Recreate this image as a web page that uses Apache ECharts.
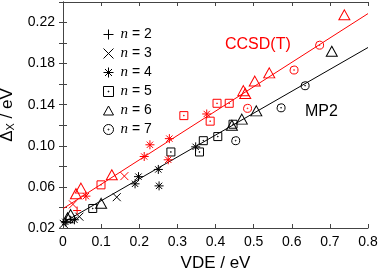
<!DOCTYPE html>
<html><head><meta charset="utf-8">
<script src="https://cdn.jsdelivr.net/npm/echarts@6/dist/echarts.min.js"></script>
<style>html,body{margin:0;padding:0;background:#fff}#c{width:380px;height:270px}</style>
</head><body><div id="c"></div>
<script>
// ---- data ----
const nLabels = ['n = 2','n = 3','n = 4','n = 5','n = 6','n = 7'];
const mp2_n2 = [[0.008,0.026],[0.020,0.028]];
const mp2_n3 = [[0.002,0.024],[0.043,0.031],[0.141,0.050]];
const mp2_n4 = [[0.006,0.026],[0.030,0.028],[0.189,0.063],[0.198,0.070],[0.250,0.077],[0.252,0.061],[0.348,0.099]];
const mp2_n5 = [[0.078,0.039],[0.283,0.094],[0.358,0.094],[0.368,0.105],[0.406,0.109],[0.446,0.121]];
const mp2_n6 = [[0.012,0.030],[0.020,0.033],[0.100,0.044],[0.443,0.120],[0.469,0.126],[0.507,0.134],[0.705,0.192]];
const mp2_n7 = [[0.453,0.105],[0.572,0.137],[0.635,0.1585]];
const cc_n2 = [[0.037,0.037]];
const cc_n3 = [[0.026,0.043],[0.161,0.0705]];
const cc_n4 = [[0.060,0.051],[0.213,0.0896],[0.228,0.101],[0.279,0.107],[0.276,0.0864],[0.377,0.131]];
const cc_n5 = [[0.0997,0.062],[0.317,0.1294],[0.386,0.124],[0.404,0.1414],[0.436,0.1414]];
const cc_n6 = [[0.034,0.0534],[0.047,0.0588],[0.128,0.0718],[0.473,0.1537],[0.478,0.151],[0.503,0.163],[0.541,0.171],[0.738,0.2275]];
const cc_n7 = [[0.484,0.1365],[0.606,0.1738],[0.673,0.198]];
const ccFit = [[0,0.0388],[0.8,0.2287]];
const mp2Fit = [[0,0.0252],[0.8,0.1957]];
const xTicks = [0,0.1,0.2,0.3,0.4,0.5,0.6,0.7,0.8];
const yTickLabels = ['0.02','0.06','0.10','0.14','0.18','0.22'];

// ---- styling ----
const FONT = "'Liberation Sans', Arial, sans-serif";
const symbols = [
  'path://M5,0 L5,10 M0,5 L10,5',
  'path://M0,0 L10,10 M10,0 L0,10',
  'path://M5,0 L5,10 M0,5 L10,5 M1.5,1.5 L8.5,8.5 M8.5,1.5 L1.5,8.5',
  'path://M0,0 L10,0 L10,10 L0,10 Z M4.6,4.6 L5.4,4.6 L5.4,5.4 L4.6,5.4 Z',
  'path://M5,0 L10,9 L0,9 Z',
  'path://M5,0 A5,5 0 1 1 4.99,0 Z M5,4.5 A0.5,0.5 0 1 1 4.99,4.5 Z'
];
const sizes = [8, 8, 9, [8,8], [11,10], [8,8]];
const mp2 = [mp2_n2, mp2_n3, mp2_n4, mp2_n5, mp2_n6, mp2_n7];
const cc = [cc_n2, cc_n3, cc_n4, cc_n5, cc_n6, cc_n7];

const series = [];
function addScatter(data, i, color){
  series.push({
    type:'scatter', name:nLabels[i], data:data, xAxisIndex:0, yAxisIndex:0,
    symbol:symbols[i], symbolSize:sizes[i],
    itemStyle:{color:'none', borderColor:color, borderWidth:1, opacity:1},
    emphasis:{disabled:true}, z:3
  });
}
mp2.forEach((d,i)=>addScatter(d,i,'#000'));
cc.forEach((d,i)=>addScatter(d,i,'#ff0000'));
series.push({type:'line', data:ccFit, showSymbol:false, symbol:'none', lineStyle:{color:'#ff0000', width:1}, z:2, silent:true});
series.push({type:'line', data:mp2Fit, showSymbol:false, symbol:'none', lineStyle:{color:'#000', width:1}, z:2, silent:true});

const axisLine = {show:true, lineStyle:{color:'#444', width:1}};
const tick = {show:true, inside:true, length:4, lineStyle:{color:'#444'}};

const option = {
  animation:false,
  textStyle:{fontFamily:FONT},
  grid:{left:63, right:12, top:2, bottom:42, containLabel:false, outerBoundsMode:'none'},
  legend:{
    orient:'vertical', left:96, top:22, itemWidth:10, itemHeight:10, itemGap:4,
    data: nLabels.map((n,i)=>({name:n, icon:symbols[i],
      itemStyle:{color:'none', borderColor:'#000', borderWidth:1}})),
    formatter: n => '{i|n}' + n.slice(1),
    textStyle:{fontFamily:FONT, fontSize:14, color:'#000', padding:[0,0,0,2],
      rich:{i:{fontFamily:"'Liberation Serif', 'Times New Roman', serif", fontStyle:'italic', fontSize:15, color:'#000'}}},
    selectedMode:false
  },
  xAxis:[
    {type:'value', min:xTicks[0], max:xTicks[xTicks.length-1], interval:0.1, position:'bottom',
     axisLine, axisTick:tick, splitLine:{show:false},
     axisLabel:{fontSize:14, color:'#000', margin:7, fontFamily:FONT,
       formatter:v=>{const s=xTicks.find(t=>Math.abs(t-v)<1e-6); return s===0?'0':(s!==undefined?s.toFixed(1):'');}},
     name:'VDE / eV', nameLocation:'middle', nameGap:27,
     nameTextStyle:{fontSize:17, color:'#000', fontFamily:FONT}},
    {type:'value', min:xTicks[0], max:xTicks[xTicks.length-1], interval:0.1, position:'top',
     axisLine, axisTick:tick, axisLabel:{show:false}, splitLine:{show:false}}
  ],
  yAxis:[
    {type:'value', min:0.02, max:0.24, interval:0.02, position:'left',
     axisLine, axisTick:tick, splitLine:{show:false},
     axisLabel:{fontSize:14, color:'#000', margin:8, fontFamily:FONT,
       formatter:v=>{const s=v.toFixed(2); return yTickLabels.indexOf(s)>=0?s:'';}},
     name:'{a|Δ}{s|X} / eV', nameLocation:'middle', nameGap:43, nameRotate:90,
     nameTextStyle:{fontSize:17, color:'#000', fontFamily:FONT,
       rich:{a:{fontSize:17, fontFamily:FONT, color:'#000'},
             s:{fontSize:11, fontFamily:FONT, color:'#000', verticalAlign:'bottom', padding:[8,0,0,0]}}}},
    {type:'value', min:0.02, max:0.24, interval:0.02, position:'right',
     axisLine, axisTick:tick, axisLabel:{show:false}, splitLine:{show:false}}
  ],
  graphic:[
    {type:'text', left:225, top:37, style:{text:'CCSD(T)', fontSize:16, fill:'#ff0000', fontFamily:FONT}},
    {type:'text', left:305, top:104, style:{text:'MP2', fontSize:16, fill:'#000', fontFamily:FONT}}
  ],
  series
};
const chart = echarts.init(document.getElementById('c'), null, {renderer:'canvas'});
chart.setOption(option);
</script></body></html>
